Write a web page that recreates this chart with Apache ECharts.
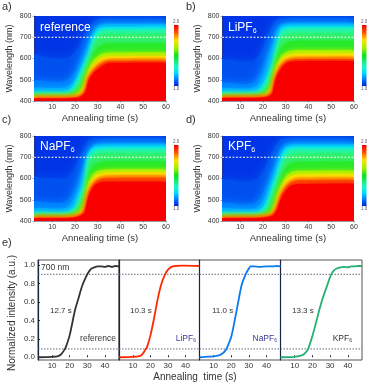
<!DOCTYPE html>
<html style="height: 100%">
<head>
    <meta charset="utf-8">
</head>
<body style="height: 100%; margin: 0; background: #fff">
    <div id="container" style="width: 369px; height: 384px"></div>
    <script type="text/javascript" src="https://cdn.jsdelivr.net/npm/echarts@6/dist/echarts.min.js"></script>
<script type="text/javascript">
    // maps: iso-intensity contours (nm), at these times
    var mapTimes = [2,12,16,18,20,22,24,25,26,28,30,32,35,60];
    var mapColors = ['#0050f0','#0078ff','#00a8ff','#00e0ff','#20f5b0','#30f070','#28ea28','#a0f000','#f8f000','#ffb000','#ff5000','#f80000'];
    var refContours = [
        [620,600,600,610,630,660,700,720,740,770,785,788,788,788],
        [500,490,495,510,540,590,640,665,690,740,760,768,770,770],
        [465,462,465,475,505,550,605,630,660,720,750,760,762,762],
        [446,444,446,455,483,530,577,604,631,702,736,745,748,750],
        [436,435,436,442,465,510,557,585,612,680,722,733,736,738],
        [430,430,431,434,452,485,535,565,592,650,695,712,716,718],
        [426,426,427,429,440,462,510,540,570,620,650,665,672,672],
        [422,422,422,424,430,445,485,520,550,590,610,622,628,630],
        [419,419,419,420,424,432,462,500,535,568,590,603,610,612],
        [416,416,416,417,419,425,445,480,520,552,577,590,598,600],
        [414,414,414,415,416,421,438,465,508,540,562,578,588,590],
        [412,412,412,413,414,418,432,455,497,530,548,565,578,580]
    ];
    var liContours = [
        [600,585,590,610,650,710,750,770,782,788,790,790,790,790],
        [490,480,488,515,560,630,690,720,745,765,770,772,772,772],
        [462,458,464,485,525,595,660,695,725,755,762,764,765,765],
        [446,444,447,455,480,525,585,630,672,742,750,752,752,752],
        [436,435,436,441,458,500,565,610,655,725,738,740,742,742],
        [430,430,431,434,446,475,540,585,628,695,712,718,720,720],
        [426,426,427,429,437,455,515,560,600,650,672,680,684,684],
        [422,422,422,424,429,440,490,535,570,610,628,635,640,640],
        [420,420,420,421,424,432,470,515,552,592,610,617,621,623],
        [418,418,418,419,420,426,450,500,538,578,598,604,608,610],
        [416,416,416,417,418,422,440,488,525,565,585,593,597,598],
        [414,414,414,415,416,419,432,478,515,552,575,584,587,588]
    ];
    var naContours = [
        [610,600,600,620,650,700,745,765,780,788,790,790,790,790],
        [495,485,490,510,550,610,670,705,735,760,768,770,770,770],
        [462,458,462,480,515,570,635,680,715,750,760,762,763,763],
        [446,442,445,452,470,529,590,670,720,745,750,750,751,752],
        [434,434,435,440,458,505,565,635,695,728,736,738,740,740],
        [428,428,429,433,447,480,540,600,660,705,715,718,720,720],
        [425,425,426,429,438,458,510,565,615,660,672,678,680,680],
        [421,421,422,424,430,445,485,535,580,620,635,640,643,644],
        [418,418,418,420,426,436,465,515,560,600,618,624,627,628],
        [416,416,416,418,422,430,450,498,545,585,604,612,615,616],
        [415,415,415,416,419,426,442,485,530,572,592,600,604,605],
        [413,413,413,414,416,422,435,474,515,560,578,584,585,585]
    ];
    var kContours = [
        [600,585,590,605,635,680,725,745,765,785,790,790,790,790],
        [490,478,482,495,530,585,640,670,700,745,765,770,772,772],
        [462,456,458,468,495,550,610,640,670,725,752,760,762,762],
        [444,442,443,447,460,505,570,600,630,700,742,750,752,752],
        [434,434,434,437,447,480,545,575,605,670,722,736,740,740],
        [428,428,428,430,437,457,515,548,575,640,690,712,718,720],
        [425,425,425,426,431,442,480,515,545,605,650,670,678,680],
        [421,421,421,422,426,432,450,478,515,570,610,628,636,638],
        [419,419,419,420,423,427,438,458,490,550,590,608,618,620],
        [417,417,417,418,420,424,432,448,472,535,572,592,604,606],
        [415,415,415,416,418,421,428,440,458,522,558,580,592,594],
        [413,413,413,414,415,418,424,432,448,505,542,565,573,576]
    ];
    var mapTicksX = [10,20,30,40,50,60];
    var mapTicksY = [400,500,600,700,800];
    var cutWavelength = 700;

    // kinetics at 700 nm
    var refT = [2,10,13,15,17,18,20,23,25,27,29,30,32,34,36,38,40,42,44,46,48];
    var refI = [0,0.005,0.01,0.03,0.08,0.12,0.24,0.51,0.64,0.77,0.86,0.9,0.955,0.975,0.985,0.985,0.98,0.99,0.98,0.99,0.985];
    var liT = [2,10,13,15,16,17,18,20,22,24,26,28,30,32,34,38,48];
    var liI = [0,0.005,0.01,0.025,0.05,0.08,0.11,0.24,0.42,0.62,0.78,0.885,0.95,0.98,0.99,0.995,0.99];
    var naT = [2,5,10,13,15,17,18,20,22,24,26,28,29,30,31,33,36,40,44,46,48];
    var naI = [0,0.005,0.01,0.02,0.04,0.08,0.12,0.22,0.4,0.6,0.79,0.89,0.93,0.96,0.985,0.985,0.98,0.985,0.985,0.99,0.985];
    var kT = [2,10,13,15,17,18,20,22,24,26,28,30,31,32,34,36,38,40,42,44,46,48];
    var kI = [0,0.005,0.015,0.03,0.07,0.11,0.23,0.37,0.52,0.65,0.76,0.87,0.91,0.94,0.965,0.975,0.98,0.975,0.985,0.985,0.99,0.99];
    var kinTicksX = [10,20,30,40];
    var kinTicksY = [0,0.2,0.4,0.6,0.8,1.0];
    var guideLevels = [0.09,0.9];

    var font = 'Liberation Sans';
    var textColor = '#333';
    var grids = [], xAxes = [], yAxes = [], series = [], graphics = [];

    function zip(xs, ys) {
        var out = [];
        for (var i = 0; i < xs.length; i++) out.push([xs[i], ys[i]]);
        return out;
    }

    function label(x, y, text, size, extra) {
        var style = {x: x, y: y, text: text, fill: textColor, font: size + 'px "' + font + '"', textVerticalAlign: 'middle'};
        for (var k in extra) style[k] = extra[k];
        graphics.push({type: 'text', z: 100, style: style});
    }

    // name with subscript 6, e.g. LiPF6
    function salt(x, y, base, size, color, align) {
        graphics.push({type: 'text', z: 100, style: {
            x: x, y: y, text: '{a|' + base + '}{b|6}', align: align || 'left', verticalAlign: 'middle',
            rich: {
                a: {fill: color, font: size + 'px "' + font + '"'},
                b: {fill: color, font: Math.round(size * 0.62) + 'px "' + font + '"', padding: [Math.round(size * 0.5), 0, 0, 0]}
            }
        }});
    }

    function addMap(left, top, contours) {
        var idx = grids.length;
        grids.push({left: left, top: top, width: 132, height: 85, show: true, backgroundColor: '#0034e6', borderWidth: 0});
        xAxes.push({
            gridIndex: idx, type: 'value', min: 2, max: 60,
            name: 'Annealing time (s)', nameLocation: 'middle', nameGap: 12,
            nameTextStyle: {fontSize: 9.5, color: textColor, fontFamily: font},
            axisLine: {onZero: false, lineStyle: {color: '#334', width: 0.5}},
            axisTick: {length: 1.5, lineStyle: {color: '#556', width: 0.5}, customValues: mapTicksX},
            axisLabel: {fontSize: 7, color: textColor, fontFamily: font, margin: 2.5, customValues: mapTicksX},
            splitLine: {show: false}
        });
        yAxes.push({
            gridIndex: idx, type: 'value', min: 400, max: 800, interval: 100,
            name: 'Wavelength (nm)', nameLocation: 'middle', nameGap: 20,
            nameTextStyle: {fontSize: 9, color: textColor, fontFamily: font},
            axisLine: {show: true, lineStyle: {color: '#334', width: 0.5}},
            axisTick: {length: 1.5, lineStyle: {color: '#556', width: 0.5}, customValues: mapTicksY},
            axisLabel: {fontSize: 7, color: textColor, fontFamily: font, margin: 2.5},
            splitLine: {show: false}
        });
        for (var i = 0; i < contours.length; i++) {
            series.push({
                type: 'line', xAxisIndex: idx, yAxisIndex: idx, symbol: 'none', silent: true, smooth: 0.25,
                data: zip(mapTimes, contours[i]), lineStyle: {width: 0},
                // soft edge so the bands run into each other like the original map
                areaStyle: {color: mapColors[i], opacity: 1, origin: 'start', shadowBlur: i < 3 ? 10 : 5, shadowColor: mapColors[i]}
            });
        }
        series.push({
            type: 'line', xAxisIndex: idx, yAxisIndex: idx, symbol: 'none', silent: true,
            data: [[2, cutWavelength], [60, cutWavelength]], z: 5,
            lineStyle: {color: '#fffde0', width: 1, type: [2, 1.5]}
        });
        // colour scale
        graphics.push({type: 'rect', shape: {x: left + 140, y: top + 9, width: 4.5, height: 61}, style: {
            fill: new echarts.graphic.LinearGradient(0, 0, 0, 1, [
                {offset: 0, color: '#f00000'}, {offset: 0.12, color: '#ff5000'}, {offset: 0.25, color: '#ffe000'},
                {offset: 0.38, color: '#a0f000'}, {offset: 0.5, color: '#10e020'}, {offset: 0.68, color: '#20f5c0'},
                {offset: 0.78, color: '#00e0ff'}, {offset: 0.9, color: '#0070ff'}, {offset: 1, color: '#0020d0'}
            ])
        }});
        label(left + 142.2, top + 6, '2.0', 4.5, {fill: '#556', textAlign: 'center'});
        label(left + 142.2, top + 73, '1.0', 4.5, {fill: '#556', textAlign: 'center'});
    }

    function addKinetics(left, width, xs, ys, color, showY) {
        var idx = grids.length;
        grids.push({left: left, top: 260, width: width, height: 100, show: true, borderColor: '#555', borderWidth: 1});
        xAxes.push({
            gridIndex: idx, type: 'value', min: 2, max: 48,
            axisLine: {show: false},
            axisTick: {inside: true, length: 2, lineStyle: {color: '#224', width: 1}, customValues: kinTicksX},
            axisLabel: {fontSize: 8, color: textColor, fontFamily: font, margin: 1.5, customValues: kinTicksX},
            splitLine: {show: false}
        });
        yAxes.push({
            gridIndex: idx, type: 'value', min: -0.03, max: 1.055,
            axisLine: {show: true, lineStyle: {color: '#1a2444', width: 1.2}},
            axisTick: {show: showY, inside: true, length: 2, lineStyle: {color: '#224', width: 1}, customValues: kinTicksY},
            axisLabel: {
                show: showY, fontSize: 8, color: textColor, fontFamily: font, margin: 3, customValues: kinTicksY,
                formatter: function (v) { return v.toFixed(1); }
            },
            splitLine: {show: false}
        });
        for (var i = 0; i < guideLevels.length; i++) {
            series.push({
                type: 'line', xAxisIndex: idx, yAxisIndex: idx, symbol: 'none', silent: true,
                data: [[2, guideLevels[i]], [48, guideLevels[i]]],
                lineStyle: {color: '#667', width: 1, type: [1.5, 1.5]}
            });
        }
        series.push({
            type: 'line', xAxisIndex: idx, yAxisIndex: idx, symbol: 'none', silent: true, smooth: 0.3,
            data: zip(xs, ys), lineStyle: {color: color, width: 1.8}
        });
    }

    addMap(34, 16, refContours);
    addMap(222, 16, liContours);
    addMap(34, 136, naContours);
    addMap(222, 136, kContours);
    addKinetics(38, 81, refT, refI, '#333333', true);
    addKinetics(119, 80.5, liT, liI, '#ff2a00', false);
    addKinetics(199.5, 81, naT, naI, '#0a7aee', false);
    addKinetics(280.5, 81.5, kT, kI, '#20b070', false);

    label(2, 7, 'a)', 11);
    label(186, 7, 'b)', 11);
    label(2, 120, 'c)', 11);
    label(186, 120, 'd)', 11);
    label(2, 243, 'e)', 11);

    label(40, 28, 'reference', 12, {fill: '#fff'});
    salt(228, 28, 'LiPF', 12, '#fff');
    salt(40, 147, 'NaPF', 12, '#fff');
    salt(228, 147, 'KPF', 12, '#fff');

    label(41, 268, '700 nm', 8.5);
    label(50, 311, '12.7 s', 8);
    label(130, 311, '10.3 s', 8);
    label(212, 311, '11.0 s', 8);
    label(292, 311, '13.3 s', 8);
    label(116, 339, 'reference', 8.5, {textAlign: 'right'});
    salt(196, 339, 'LiPF', 8.5, '#3a3a9a', 'right');
    salt(277, 339, 'NaPF', 8.5, '#3a3a9a', 'right');
    salt(352, 339, 'KPF', 8.5, '#333', 'right');

    label(195, 377, 'Annealing  time (s)', 10, {textAlign: 'center'});
    graphics.push({type: 'text', z: 100, x: 12, y: 313, rotation: Math.PI / 2, style: {
        x: 0, y: 0, text: 'Normalized intensity (a.u.)', fill: textColor, font: '10px "' + font + '"',
        textAlign: 'center', textVerticalAlign: 'middle'
    }});

    var myChart = echarts.init(document.getElementById('container'), null, {renderer: 'canvas'});
    myChart.setOption({
        animation: false,
        grid: grids,
        xAxis: xAxes,
        yAxis: yAxes,
        series: series,
        graphic: graphics
    });
</script>
</body>
</html>
